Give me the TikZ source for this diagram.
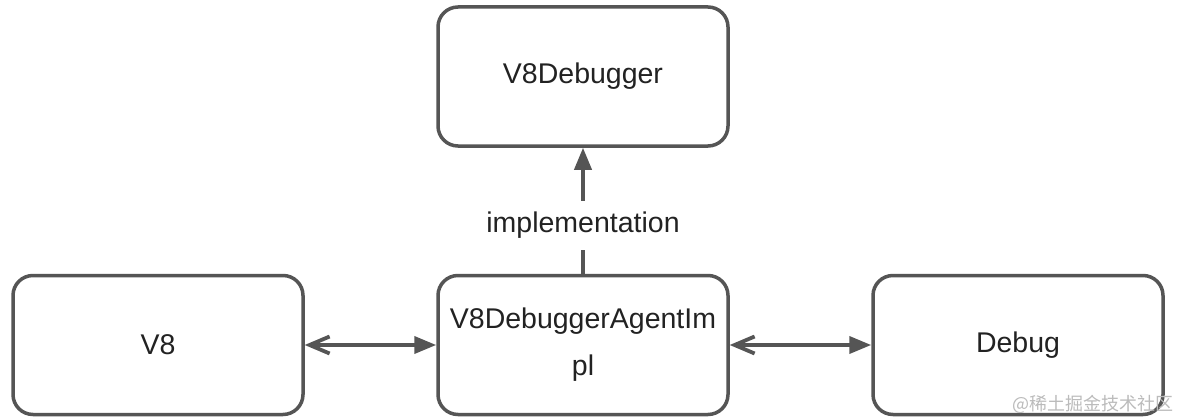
\documentclass[tikz,border=0pt]{standalone}
\usepackage{fontspec}
\setmainfont{Liberation Sans}
\newfontfamily\cjk{Noto Sans CJK SC}
\usetikzlibrary{arrows.meta}
\definecolor{edge}{HTML}{555555}
\definecolor{ink}{HTML}{222222}
\definecolor{wm}{HTML}{BBBBBB}
\begin{document}
\begin{tikzpicture}[x=1pt,y=-1pt,
  box/.style={draw=edge,line width=3.5pt,rounded corners=20pt,minimum width=290pt,minimum height=139pt,
    text=ink,font=\fontsize{28.5}{47}\selectfont,align=center,inner sep=0pt},
  conn/.style={draw=edge,line width=3.8pt},
  fhead/.style={-{Triangle[length=22pt,width=17pt]}},
  bihead/.style={{Straight Barb[length=20pt,width=17pt]}-{Triangle[length=22pt,width=17pt]}}
]
\fill[white] (0,0) rectangle (1180,420);
\useasboundingbox (0,0) rectangle (1180,420);
\node[box] (dbg) at (583,76.5) {V8Debugger};
\node[box] (v8) at (158,345) {V8};
\node[box] (agent) at (583,345) {V8DebuggerAgentIm\\pl};
\node[box] (debug) at (1018,345) {Debug};
\draw[conn,fhead] (agent.north) -- node[pos=0.385,fill=white,text=ink,font=\fontsize{28.5}{34}\selectfont,inner xsep=4pt,inner ysep=11pt]{implementation} (dbg.south);
\draw[conn,bihead] (v8.east) -- (agent.west);
\draw[conn,bihead] (agent.east) -- (debug.west);
\node[text=wm,font=\cjk\fontsize{18}{20}\selectfont,anchor=east,inner sep=0pt] (wmk) at (1174,404) {@稀土掘金技术社区};
\end{tikzpicture}
\end{document}
